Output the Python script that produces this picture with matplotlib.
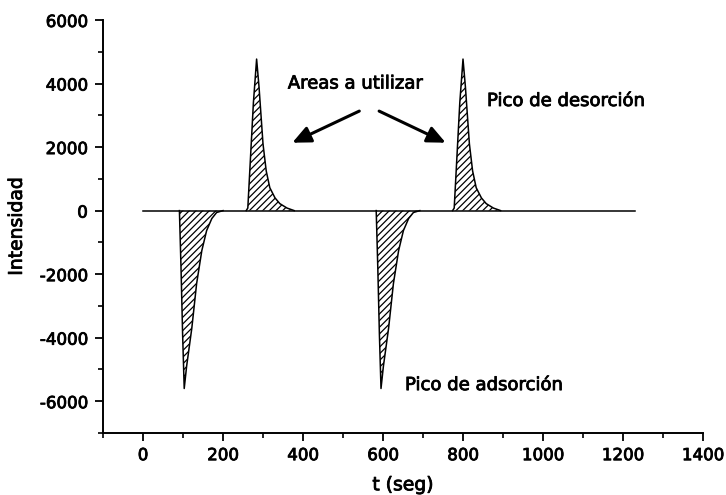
import matplotlib
matplotlib.use("Agg")
import matplotlib.pyplot as plt
import matplotlib.patheffects as pe
from matplotlib.ticker import MultipleLocator

plt.rcParams['font.family'] = ['DejaVu Sans']
plt.rcParams['axes.unicode_minus'] = False
plt.rcParams['hatch.linewidth'] = 0.9

# Baseline of the signal
baseline_t = [0, 1230]
baseline_i = [0, 0]

# Adsorption peaks (negative) and desorption peaks (positive): time (s), intensity
ads1_t = [91, 95, 99, 103, 109, 122, 134, 147, 159, 172, 184, 200]
ads1_i = [0, -1800, -3900, -5600, -4900, -3700, -2300, -1260, -630, -250, -60, 0]

des1_t = [258, 262, 268, 276, 284, 290, 300, 308, 317, 330, 342, 360, 378]
des1_i = [0, 80, 1500, 3400, 4770, 3900, 2100, 1250, 720, 400, 220, 80, 0]

ads2_t = [583, 587, 591, 595, 601, 614, 626, 639, 651, 664, 676, 692]
ads2_i = [0, -1800, -3900, -5600, -4900, -3700, -2300, -1260, -630, -250, -60, 0]

des2_t = [774, 778, 784, 792, 800, 806, 816, 824, 833, 846, 858, 876, 894]
des2_i = [0, 80, 1500, 3400, 4770, 3900, 2100, 1250, 720, 400, 220, 80, 0]

x_ticks = [0, 200, 400, 600, 800, 1000, 1200, 1400]
y_ticks = [-6000, -4000, -2000, 0, 2000, 4000, 6000]

fig = plt.figure(figsize=(7.26, 4.95), dpi=100)
ax = fig.add_axes([0.1419, 0.1253, 0.8264, 0.8343])

ax.plot(baseline_t, baseline_i, color='black', lw=1.1)
for t, i in [(ads1_t, ads1_i), (des1_t, des1_i), (ads2_t, ads2_i), (des2_t, des2_i)]:
    ax.fill_between(t, i, 0, facecolor='white', edgecolor='black', hatch='/////', lw=0)
    ax.plot(t, i, color='black', lw=1.1)

ax.set_xlim(-100, 1400)
ax.set_ylim(-7000, 6000)
ax.set_xticks(x_ticks)
ax.set_yticks(y_ticks)
ax.xaxis.set_minor_locator(MultipleLocator(100))
ax.yaxis.set_minor_locator(MultipleLocator(1000))
ax.spines['top'].set_visible(False)
ax.spines['right'].set_visible(False)
for s in ('left', 'bottom'):
    ax.spines[s].set_linewidth(1.4)
ax.tick_params(which='major', direction='out', length=6, width=1.3, labelsize=12)
ax.tick_params(which='minor', direction='out', length=3.5, width=1.2)
ax.tick_params(axis='y', which='major', pad=5)

# slightly heavier strokes for all text
heavy = [pe.withStroke(linewidth=0.6, foreground='black')]
for lab in ax.get_xticklabels() + ax.get_yticklabels():
    lab.set_path_effects(heavy)

ax.set_xlabel('t (seg)', fontsize=13.5, labelpad=8, path_effects=heavy)
ax.set_ylabel('Intensidad', fontsize=13.5, labelpad=10, path_effects=heavy)

ax.text(362, 4000, 'Areas a utilizar', fontsize=13, va='center', ha='left', path_effects=heavy)
ax.text(860, 3450, 'Pico de desorción', fontsize=13, va='center', ha='left', path_effects=heavy)
ax.text(655, -5650, 'Pico de adsorción', fontsize=13, va='baseline', ha='left', path_effects=heavy)

arrow_kw = dict(arrowstyle='-|>,head_length=1.1,head_width=0.5', color='black', lw=2.2)
ax.annotate('', xy=(367, 2100), xytext=(547, 3170), arrowprops=arrow_kw)
ax.annotate('', xy=(763, 2100), xytext=(584, 3170), arrowprops=arrow_kw)

fig.savefig('out.png', dpi=100)
